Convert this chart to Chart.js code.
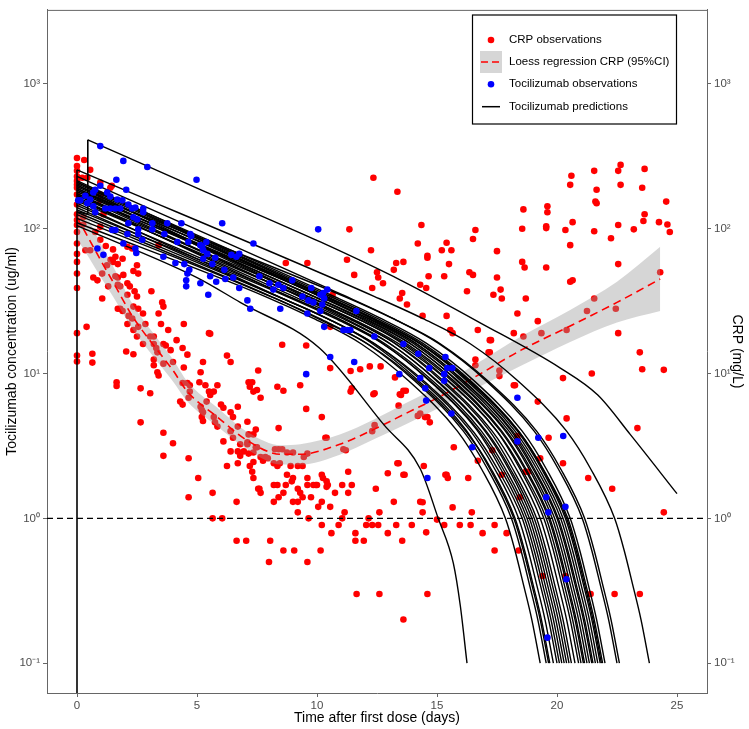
<!DOCTYPE html>
<html><head><meta charset="utf-8">
<script src="https://cdn.jsdelivr.net/npm/chart.js@4.4.1/dist/chart.umd.min.js"></script>
<style>html,body{margin:0;padding:0;background:#fff;}</style>
</head><body>
<canvas id="c" width="749" height="729"></canvas>
<script>
// ---------- DATA ----------
const xTickValues = [0, 5, 10, 15, 20, 25];
const yTickValues = [0.1, 1, 10, 100, 1000];
const yTickLabels = ['10\u207B\u00B9', '10\u2070', '10\u00B9', '10\u00B2', '10\u00B3'];
const xTitle = 'Time after first dose (days)';
const yTitleLeft = 'Tocilizumab concentration (ug/ml)';
const yTitleRight = 'CRP (mg/L)';
const legendLabels = ['CRP observations', 'Loess regression CRP (95%CI)', 'Tocilizumab observations', 'Tocilizumab predictions'];
const lodLevel = 1;

const crpObservations = [
[0,308],[0,271],[0,251],[0,229],[0,214],[0,201],[0,192],[0,172],[0,147],[0,126],[0,115],[0,106],[0,95],[0,79],[0,67],[0,59],[0,49],[0,39],[0,19],[0,13.3],[0,12.1],
[0.3,298],[0.55,255],[0.22,225],[0.43,225],[0.97,208],[0.97,172],[0.97,157],[1.45,198],[1.39,192],[1.1,126],[0.26,120],[0.26,107],[0.97,103],[0.76,95],[0.97,84],[1.2,76],[0.35,71],[0.55,71],[1.5,72],[2.1,75],[2.3,73],[3.4,77],[1.6,64],[1.5,59],[1.7,57],[1.4,61],[1.25,56],[1.9,62],[2.5,56],[2.55,49],[2.35,51],[0.68,46],[0.85,44],[1.05,49],[1.93,48],[1.6,47],[1.7,46],[1.3,40],[1.7,41],[1.8,40],[2.1,42],[2.2,40],[2.4,37],[1.05,33],[2.1,35],[2.5,34],[3.1,37],[3.55,31],[3.6,29],[2.35,29],[1.8,28],[1.9,27],[1.7,28],[2.15,25],[2.55,28],[3.4,26],[2.3,24],[2.75,26],[2.85,22],[0.4,21],[2.1,22],[2.55,21],[2.5,18],[2.35,20],[3.5,22],[3.05,18],[3.2,18],[3.8,20],[4.15,17],[4.45,22],[3.3,15],[3.35,14],[3.2,16],[2.75,16],[3.6,16],[3.7,15.6],[4.4,15],[4.6,13.5],[3.9,14.5],[4.0,12],[3.6,11.7],[3.2,12.5],[3.2,11.4],[3.35,10.2],[3.4,9.7],[2.05,14.2],[2.35,13.6],[1.65,8.7],[1.65,8.2],[0.64,13.7],[0.64,11.9],[2.65,7.9],[3.05,7.3],[2.65,4.6],[3.6,3.9],[3.6,2.7],[4.0,3.3],[4.45,11],[4.4,8.6],[4.6,8.6],[4.7,8.3],[4.7,7.5],[5.15,10.2],[5.1,8.7],[5.25,12],[5.5,19],[5.55,18.8],[5.35,8.3],[5.5,7.5],[5.55,7.1],[4.3,6.4],[4.4,6.1],[4.65,6.8],[5.15,5.9],[5.2,5.6],[5.25,5.4],[5.4,6.4],[5.7,5.0],[5.75,4.6],[5.85,4.3],[5.25,4.7],[5.2,5.0],[6.25,13.3],[6.4,12],[6.4,5.4],[6.7,5.9],[6.5,5.0],[6.7,4.3],[6.4,4.0],[6.5,3.6],[5.85,8.3],[5.7,7.5],[6.0,6.1],[6.1,5.8],[5.05,1.9],[4.65,2.6],[5.65,1.5],[6.25,2.3],[6.4,2.9],[6.7,2.9],[6.8,2.7],[6.7,2.4],[7.15,3.8],[7.1,3.25],[7.15,8.7],[6.1,3.4],[4.65,1.4],[5.65,1.0],[6.05,1.0],[6.65,1.3],[6.65,0.70],[7.05,0.70],
[8.7,58],[9.6,58],[11.25,61],[12.25,71],[13.3,58],[13.6,59],[13.2,52],[11.55,48],[12.5,50],[12.55,46],[12.75,42],[12.3,39],[13.55,36],[13.45,33],[13.75,30],[14.3,41],[14.55,39],[14.65,47],[14.6,63],[15.2,71],[15.6,71],[15.5,57],[15.3,47],[16.35,50],[16.5,48],[16.25,37],[14.4,25],[15.4,25],[15.55,20],[15.65,19],[16.7,20],[17.2,17],[17.15,14],[16.6,12.5],[16.6,11.4],[10.65,35],[10.55,21],[9.55,15.6],[8.55,15.8],[10.55,10.9],[11.4,10.4],[11.8,10.7],[12.2,11.2],[12.65,11.2],[12.35,7.2],[13.45,7.2],[13.6,7.6],[11.4,7.5],[11.45,7.9],[14.3,5.3],[14.6,5.0],[15.7,3.1],[14.7,4.6],[14.45,2.3],[13.6,2.0],[13.35,2.4],[15.4,2.0],[16.7,2.5],[16.3,1.9],[12.45,1.6],[11.3,2.1],[11.05,1.7],[10.2,2.0],[10.25,1.9],[10.4,1.8],[10.45,1.7],[10.4,1.65],[10.0,1.7],[9.85,1.7],[9.6,1.7],[9.6,1.9],[9.0,1.9],[8.75,2.0],[8.95,1.8],[8.45,2.4],[8.35,2.3],[8.2,2.4],[9.4,2.3],[9.2,2.3],[8.9,2.3],[7.95,2.6],[7.85,2.65],[7.75,2.5],[7.65,2.65],[7.35,2.45],[7.2,2.3],[7.3,2.1],[7.35,1.9],[7.55,1.6],[7.65,1.5],[8.25,3.0],[8.4,3.0],[8.55,3.0],[8.75,2.85],[9.0,2.85],[9.6,2.8],[9.45,2.65],[6.95,2.9],[7.15,2.8],[7.35,2.85],[6.8,3.25],[7.1,3.35],[7.35,3.8],[7.45,4.1],[7.1,4.65],[7.45,3.1],[7.5,3.1],[8.4,4.2],[9.3,8.3],[8.6,7.6],[8.35,8.1],[7.3,8.7],[7.2,8.1],[7.35,7.5],[7.5,7.7],[7.65,6.8],[7.55,10.5],[10.2,5.0],[9.55,5.7],[10.35,3.6],[10.4,3.6],[11.2,2.95],[12.3,4.0],
[11.35,99],[14.2,79],[15.4,80],[16.5,85],[16.6,98],[17.5,70],[18.55,100],[19.55,101],[18.55,59],[18.65,54],[19.55,54],[17.5,46],[17.35,35],[17.65,38],[17.7,33],[18.7,33],[18.35,26],[19.2,23],[18.2,19],[18.6,18],[19.35,19],[17.25,17],[17.2,14],[17.6,10.5],[17.6,9.6],[18.2,8.3],[19.2,6.4],[19.65,3.6],[13.25,9.4],[13.7,7.6],[13.5,7.1],[12.4,7.3],[12.4,4.4],[13.4,6.0],[14.2,5.1],[14.5,5.0],[17.3,2.95],[17.7,2.0],[18.35,3.7],[18.35,3.35],[18.8,2.1],[19.3,2.6],[13.4,2.4],[13.65,2.0],[12.95,2.05],[15.35,2.0],[15.45,1.9],[11.1,3.0],
[22.65,276],[22.55,251],[23.65,259],[21.55,251],[20.6,232],[20.55,201],[22.65,201],[21.65,186],[23.55,192],[21.6,154],[21.65,150],[24.55,154],[18.6,136],[19.6,143],[19.6,130],[23.65,126],[23.6,113],[24.25,111],[24.6,107],[24.7,95],[20.65,111],[19.55,104],[20.35,98],[21.55,96],[22.55,106],[23.2,99],[22.25,86],[20.55,77],[22.55,57],[20.55,43],[20.65,44],[21.55,33],[20.4,20],[21.25,27],[22.45,28],[24.3,50],[22.55,19],[23.45,14],[23.55,10.7],[24.45,10.6],[21.45,10],[20.25,9.3],
[18.25,8.3],[20.4,4.9],[23.35,4.2],[20.25,2.4],[18.7,2.1],[21.3,1.9],[22.3,1.6],[18.45,1.4],[24.45,1.1],[16.9,0.79],[17.4,0.90],[17.9,0.79],[17.4,0.60],[18.4,0.60],[19.4,0.40],[20.35,0.40],[21.4,0.30],[22.4,0.30],[23.45,0.30],
[14.4,1.29],[14.4,1.1],[15.65,1.19],[16.45,1.1],[15.0,0.98],[15.3,0.90],[15.95,0.90],[16.4,0.90],[14.55,0.80],[14.6,0.30],
[7.6,1.6],[8.2,1.7],[8.35,1.7],[8.7,1.7],[9.2,1.6],[9.3,1.5],[9.95,1.7],[11.45,1.7],[8.4,1.4],[8.6,1.5],[8.2,1.3],[9.0,1.3],[9.2,1.3],[9.4,1.4],[9.75,1.4],[10.05,1.2],[10.2,1.3],[10.55,1.2],[10.75,1.5],[11.3,1.5],[9.2,1.1],[11.15,1.1],[13.2,1.3],[14.3,1.3],[12.6,1.1],[9.65,1.0],[11.05,1.0],[12.15,1.0],[10.2,0.9],[10.9,0.9],[12.05,0.9],[12.3,0.9],[12.55,0.9],[13.3,0.9],[13.95,0.9],[8.05,0.70],[10.6,0.79],[11.6,0.79],[12.95,0.79],[11.6,0.70],[11.95,0.70],[13.55,0.70],[8.6,0.60],[9.05,0.60],[10.15,0.60],[8.0,0.50],[9.6,0.50],[11.65,0.30],[12.6,0.30],[13.6,0.20],
[12.35,225],[13.35,180],[14.35,106],[14.6,65]
];

const tocilizumabObservations = [
[0.97,372],[1.93,294],[2.93,267],[4.98,218],[1.64,218],[2.05,186],[0.05,157],[0.76,186],[0.68,178],[0.97,198],[1.26,178],[1.39,167],[0.35,169],[0.55,159],[0.14,157],[0.43,150],[0.68,143],[0.76,130],[1.68,159],[1.89,157],[2.14,147],[2.3,138],[2.43,140],[1.18,138],[1.39,138],[1.6,138],[1.8,138],[2.76,138],[2.76,130],[2.35,120],[2.51,116],[2.14,109],[3.14,109],[3.14,99],[3.76,109],[4.35,109],[2.55,99],[2.55,92],[1.47,98],[1.6,98],[2.1,92],[2.72,84],[3.64,92],[4.18,81],[4.72,92],[4.76,89],[4.64,81],[5.14,77],[5.22,75],[5.39,81],[1.93,79],[0.85,73],[1.1,66],[2.43,73],[2.47,68],[3.6,64],[4.1,58],[4.47,57],[4.68,52],[4.6,49],[4.55,44],[4.55,40],[5.26,62],[5.43,67],[5.76,63],[5.64,57],[6.14,52],[6.43,66],[6.64,64],[6.76,67],[6.05,109],[7.35,79],[5.55,47],[5.8,43],[6.51,46],[6.76,39],[5.47,35],[7.6,47],[8.02,42],[8.18,38],[8.39,41],[8.6,39],[7.1,32],[7.22,28],[8.97,44],[9.39,34],[9.64,32],[9.85,31],[8.47,28],[9.6,26],[9.76,39],[10.05,99],[5.26,71],[5.14,42],[6.18,45],
[10.14,35],[10.26,36],[10.43,38],[10.3,33],[10.22,30],[10.14,27],[11.64,27],[10.3,21],[11.1,20],[11.26,20],[11.39,20],[12.39,18],[10.55,13],[11.55,12],[9.55,9.9],[13.6,16],[14.22,13.7],[13.43,9.9],[14.68,10.9],[14.3,9.3],[14.51,7.9],[14.55,6.5],[15.35,13],[15.43,10.9],[15.64,10.9],[15.3,9.9],[15.3,8.9],[15.6,5.3],[16.47,3.1],[14.6,1.9],
[18.35,6.8],[19.22,3.6],[18.35,3.4],[20.26,3.7],[19.55,1.4],[19.64,1.1],[20.35,1.2],[20.39,0.38],[19.6,0.15]
];

const loessTimes = [0, 0.5, 1, 1.5, 2.3, 3.2, 4, 4.6, 5.85, 7.15, 8.5, 9.3, 10.95, 12.35, 13.75, 15.1, 16.5, 18.5, 20.55, 22.5, 24.3];
const loessFit   = [120, 85, 60, 43, 25, 15.6, 10.5, 7.5, 5.0, 3.4, 2.77, 2.77, 3.25, 4.1, 5.35, 6.9, 9.3, 14.5, 21.3, 31, 45];
const loessLower = [85, 63, 46, 34, 20.5, 13, 8.8, 6.4, 4.3, 2.95, 2.35, 2.35, 2.75, 3.5, 4.5, 5.8, 7.7, 11.3, 16.5, 22.5, 27];
const loessUpper = [170, 115, 78, 55, 30.5, 18.8, 12.5, 8.8, 5.8, 3.9, 3.2, 3.25, 3.8, 4.8, 6.3, 8.2, 11.3, 18, 27.5, 43, 75];

// vertical dose jumps (start of each patient's profile)
const doseJumps = [
  [[0, 0.01], [0, 255]],
  [[0, 131], [0.45, 126], [0.45, 411]]
];

const predictionCurves = [
[[0.45,411],[5,191],[10.14,81],[13.5,44],[16.8,22.4],[20.14,10.9],[21.7,7.1],[23.05,3.8],[25.0,1.48]],
[[0,105],[5,46],[6.8,31],[10.1,15],[12.8,4.4],[14.3,2.2],[15.05,1.0],[15.68,0.49],[15.97,0.25],[16.25,0.1]],
[[0,110],[7.85,34],[9.85,24],[11.85,16],[13.85,8.8],[15.85,4.0],[16.85,2.2],[17.85,1.0],[18.25,0.6],[18.6,0.35],[18.95,0.2],[19.3,0.1]],
[[0,125],[8.1,34],[10.1,24],[12.1,16],[14.1,8.8],[16.1,4.0],[17.1,2.2],[18.1,1.0],[18.5,0.6],[18.85,0.35],[19.2,0.2],[19.55,0.1]],
[[0,140],[8.2,35],[10.2,25],[12.2,16.5],[14.2,9.0],[16.2,4.1],[17.2,2.2],[18.2,1.0],[18.6,0.6],[18.95,0.35],[19.3,0.2],[19.65,0.1]],
[[0,118],[8.25,33],[10.25,23],[12.25,15.5],[14.25,8.6],[16.25,3.9],[17.25,2.2],[18.25,1.0],[18.65,0.6],[19.0,0.35],[19.35,0.2],[19.7,0.1]],
[[0,150],[8.4,34],[10.4,24],[12.4,16],[14.4,8.8],[16.4,4.0],[17.4,2.2],[18.4,1.0],[18.8,0.6],[19.15,0.35],[19.5,0.2],[19.85,0.1]],
[[0,130],[8.55,33],[10.55,23.5],[12.55,15.5],[14.55,8.6],[16.55,3.9],[17.55,2.15],[18.55,1.0],[18.95,0.6],[19.3,0.35],[19.65,0.2],[20.0,0.1]],
[[0,165],[8.65,35],[10.65,25],[12.65,16.5],[14.65,9.0],[16.65,4.1],[17.65,2.2],[18.65,1.0],[19.05,0.6],[19.4,0.35],[19.75,0.2],[20.1,0.1]],
[[0,135],[8.75,34],[10.75,24],[12.75,16],[14.75,8.8],[16.75,4.0],[17.75,2.2],[18.75,1.0],[19.15,0.6],[19.5,0.35],[19.85,0.2],[20.2,0.1]],
[[0,145],[8.85,34],[10.85,24],[12.85,16],[14.85,8.8],[16.85,4.0],[17.85,2.2],[18.85,1.0],[19.25,0.6],[19.6,0.35],[19.95,0.2],[20.3,0.1]],
[[0,175],[8.95,36],[10.95,25],[12.95,16.5],[14.95,9.0],[16.95,4.1],[17.95,2.25],[18.95,1.0],[19.35,0.6],[19.7,0.35],[20.05,0.2],[20.4,0.1]],
[[0,160],[9.05,34],[11.05,24],[13.05,16],[15.05,8.8],[17.05,4.0],[18.05,2.2],[19.05,1.0],[19.45,0.6],[19.8,0.35],[20.15,0.2],[20.5,0.1]],
[[0,190],[9.15,36],[11.15,25],[13.15,16.5],[15.15,9.0],[17.15,4.1],[18.15,2.2],[19.15,1.0],[19.55,0.6],[19.9,0.35],[20.25,0.2],[20.6,0.1]],
[[0,170],[9.3,34],[11.3,24],[13.3,16],[15.3,8.8],[17.3,4.0],[18.3,2.2],[19.3,1.0],[19.7,0.6],[20.05,0.35],[20.4,0.2],[20.75,0.1]],
[[0,200],[9.45,35],[11.45,25],[13.45,16.5],[15.45,9.0],[17.45,4.1],[18.45,2.2],[19.45,1.0],[19.85,0.6],[20.2,0.35],[20.55,0.2],[20.9,0.1]],
[[0,155],[9.55,33],[11.55,23.5],[13.55,15.5],[15.55,8.6],[17.55,3.9],[18.55,2.15],[19.55,1.0],[19.95,0.6],[20.3,0.35],[20.65,0.2],[21.0,0.1]],
[[0,160],[9.65,34],[11.65,24],[13.65,16],[15.65,8.8],[17.65,4.0],[18.65,2.2],[19.65,1.0],[20.05,0.6],[20.4,0.35],[20.75,0.2],[21.1,0.1]],
[[0,185],[9.7,35],[11.7,24.5],[13.7,16.2],[15.7,8.9],[17.7,4.0],[18.7,2.2],[19.7,1.0],[20.1,0.6],[20.45,0.35],[20.8,0.2],[21.15,0.1]],
[[0,210],[9.8,36],[11.8,25],[13.8,16.5],[15.8,9.0],[17.8,4.1],[18.8,2.25],[19.8,1.0],[20.2,0.6],[20.55,0.35],[20.9,0.2],[21.25,0.1]],
[[0,175],[9.9,34],[11.9,24],[13.9,16],[15.9,8.8],[17.9,4.0],[18.9,2.2],[19.9,1.0],[20.3,0.6],[20.65,0.35],[21.0,0.2],[21.35,0.1]],
[[0,195],[10.0,35],[12.0,24.5],[14.0,16.2],[16.0,8.9],[18.0,4.0],[19.0,2.2],[20.0,1.0],[20.4,0.6],[20.75,0.35],[21.1,0.2],[21.45,0.1]],
[[0,215],[10.05,36],[12.05,25],[14.05,16.5],[16.05,9.0],[18.05,4.1],[19.05,2.2],[20.05,1.0],[20.45,0.6],[20.8,0.35],[21.15,0.2],[21.5,0.1]],
[[0,180],[10.15,34],[12.15,24],[14.15,16],[16.15,8.8],[18.15,4.0],[19.15,2.2],[20.15,1.0],[20.55,0.6],[20.9,0.35],[21.25,0.2],[21.6,0.1]],
[[0,200],[10.25,35],[12.25,24.5],[14.25,16.2],[16.25,8.9],[18.25,4.0],[19.25,2.2],[20.25,1.0],[20.65,0.6],[21.0,0.35],[21.35,0.2],[21.7,0.1]],
[[0,190],[10.35,34],[12.35,24],[14.35,16],[16.35,8.8],[18.35,4.0],[19.35,2.2],[20.35,1.0],[20.75,0.6],[21.1,0.35],[21.45,0.2],[21.8,0.1]],
[[0,205],[10.4,35],[12.4,24.5],[14.4,16.2],[16.4,8.9],[18.4,4.0],[19.4,2.2],[20.4,1.0],[20.8,0.6],[21.15,0.35],[21.5,0.2],[21.85,0.1]],
[[0,170],[10.45,33],[12.45,23.5],[14.45,15.5],[16.45,8.6],[18.45,3.9],[19.45,2.15],[20.45,1.0],[20.85,0.6],[21.2,0.35],[21.55,0.2],[21.9,0.1]],
[[0,210],[10.55,35],[12.55,24.5],[14.55,16.2],[16.55,8.9],[18.55,4.0],[19.55,2.2],[20.55,1.0],[20.95,0.6],[21.3,0.35],[21.65,0.2],[22.0,0.1]],
[[0,230],[11.05,35],[13.05,24.5],[15.05,16.2],[17.05,8.9],[19.05,4.0],[20.05,2.2],[21.05,1.0],[21.45,0.6],[21.8,0.35],[22.15,0.2],[22.5,0.1]],
[[0,185],[11.15,34],[13.15,24],[15.15,16],[17.15,8.8],[19.15,4.0],[20.15,2.2],[21.15,1.0],[21.55,0.6],[21.9,0.35],[22.25,0.2],[22.6,0.1]],
[[0,255],[12.4,34],[14.4,24],[16.4,16],[18.4,8.8],[20.4,4.0],[21.4,2.2],[22.4,1.0],[22.8,0.6],[23.15,0.35],[23.5,0.2],[23.85,0.1]]
];

// ---------- CHART ----------
const FONT = "'Liberation Sans', Arial, Helvetica, sans-serif";
const toXY = arr => arr.map(p => ({x: p[0], y: p[1]}));
const datasets = [];
datasets.push({ label: 'ci-lower', data: loessTimes.map((t, i) => ({x: t, y: loessLower[i]})), showLine: true, borderWidth: 0, pointRadius: 0, cubicInterpolationMode: 'monotone', fill: false, order: 9 });
datasets.push({ label: 'ci-upper', data: loessTimes.map((t, i) => ({x: t, y: loessUpper[i]})), showLine: true, borderWidth: 0, pointRadius: 0, cubicInterpolationMode: 'monotone', fill: 0, backgroundColor: 'rgba(153,153,153,0.4)', order: 9 });
datasets.push({ label: 'CRP observations', data: toXY(crpObservations), pointRadius: 3.3, pointBackgroundColor: '#FF0000', pointBorderWidth: 0, showLine: false, order: 10 });
datasets.push({ label: 'loess', data: loessTimes.map((t, i) => ({x: t, y: loessFit[i]})), showLine: true, borderColor: '#FF0000', borderWidth: 1.6, borderDash: [8, 5], pointRadius: 0, cubicInterpolationMode: 'monotone', fill: false, order: 8 });
datasets.push({ label: 'lod', data: [{x: -1.25, y: lodLevel}, {x: 26.25, y: lodLevel}], showLine: true, borderColor: '#000', borderWidth: 1.4, borderDash: [6, 4], pointRadius: 0, fill: false, order: 7 });
doseJumps.forEach(seg => datasets.push({ label: 'dose', data: toXY(seg), showLine: true, borderColor: '#000', borderWidth: 1.6, pointRadius: 0, tension: 0, fill: false, order: 6 }));
predictionCurves.forEach(c => datasets.push({ label: 'pred', data: toXY(c), showLine: true, borderColor: '#000', borderWidth: 1.4, pointRadius: 0, cubicInterpolationMode: 'monotone', fill: false, order: 6 }));
datasets.push({ label: 'Tocilizumab observations', data: toXY(tocilizumabObservations), pointRadius: 3.3, pointBackgroundColor: '#0000FF', pointBorderWidth: 0, showLine: false, order: 5 });

const yLabel = v => { const i = yTickValues.findIndex(t => Math.abs(Math.log10(t) - Math.log10(v)) < 1e-6); return i >= 0 ? yTickLabels[i] : ''; };
const yAxis = (pos, title) => ({
  type: 'logarithmic', position: pos, min: 0.0622, max: 3245,
  afterBuildTicks: s => { s.ticks = yTickValues.map(v => ({value: v})); },
  afterFit: s => { s.width = pos === 'left' ? 47 : 42; },
  ticks: { callback: v => yLabel(v), color: '#4d4d4d', font: {family: FONT, size: 11.5}, padding: 3, autoSkip: false },
  grid: { drawOnChartArea: false, drawTicks: true, tickLength: 4, color: '#666', tickColor: '#666' },
  border: { display: true, color: '#666', width: 1 },
  title: { display: true, text: title, color: '#000', font: {family: FONT, size: 14}, padding: {top: 4, bottom: 2} }
});

const framePlugin = {
  id: 'frame',
  afterDatasetsDraw(chart) {
    const {ctx, chartArea: a} = chart;
    ctx.save();
    ctx.strokeStyle = '#666'; ctx.lineWidth = 1;
    ctx.beginPath(); ctx.moveTo(a.left, a.top + 0.5); ctx.lineTo(a.right, a.top + 0.5); ctx.stroke();
    ctx.restore();
  },
  afterDraw(chart) {
    const ctx = chart.ctx;
    ctx.save();
    const bx = 472.5, by = 15, bw = 204, bh = 109;
    ctx.fillStyle = '#fff'; ctx.fillRect(bx, by, bw, bh);
    ctx.strokeStyle = '#000'; ctx.lineWidth = 1.2; ctx.strokeRect(bx, by, bw, bh);
    const rows = [40, 62, 84.3, 106.7];
    ctx.fillStyle = '#FF0000'; ctx.beginPath(); ctx.arc(491, rows[0], 3.3, 0, Math.PI * 2); ctx.fill();
    ctx.fillStyle = '#d6d6d6'; ctx.fillRect(480, 51, 22, 22);
    ctx.strokeStyle = '#FF0000'; ctx.lineWidth = 1.6; ctx.setLineDash([7, 4]);
    ctx.beginPath(); ctx.moveTo(481, rows[1]); ctx.lineTo(502, rows[1]); ctx.stroke();
    ctx.setLineDash([]);
    ctx.fillStyle = '#0000FF'; ctx.beginPath(); ctx.arc(491, rows[2], 3.3, 0, Math.PI * 2); ctx.fill();
    ctx.strokeStyle = '#000'; ctx.lineWidth = 1.5;
    ctx.beginPath(); ctx.moveTo(482, rows[3]); ctx.lineTo(500, rows[3]); ctx.stroke();
    ctx.fillStyle = '#000'; ctx.font = '11.5px ' + FONT; ctx.textBaseline = 'middle'; ctx.textAlign = 'left';
    legendLabels.forEach((t, i) => ctx.fillText(t, 509, rows[i]));
    ctx.restore();
  }
};

new Chart(document.getElementById('c'), {
  type: 'scatter',
  data: { datasets },
  options: {
    responsive: false, animation: false, devicePixelRatio: 1,
    events: [],
    layout: { padding: {top: 1, left: 0, right: 0, bottom: 0} },
    plugins: { legend: {display: false}, tooltip: {enabled: false} },
    scales: {
      x: {
        type: 'linear', min: -1.25, max: 26.25,
        afterBuildTicks: s => { s.ticks = xTickValues.map(v => ({value: v})); },
        afterFit: s => { s.height = 36; },
        ticks: { color: '#4d4d4d', font: {family: FONT, size: 11.5}, padding: 2, maxRotation: 0, autoSkip: false },
        grid: { drawOnChartArea: false, drawTicks: true, tickLength: 4, color: '#666', tickColor: '#666' },
        border: { display: true, color: '#666', width: 1 },
        title: { display: true, text: xTitle, color: '#000', font: {family: FONT, size: 14}, padding: {top: 0, bottom: 2} }
      },
      y: yAxis('left', yTitleLeft),
      y2: yAxis('right', yTitleRight)
    }
  },
  plugins: [framePlugin]
});
</script>
</body></html>
